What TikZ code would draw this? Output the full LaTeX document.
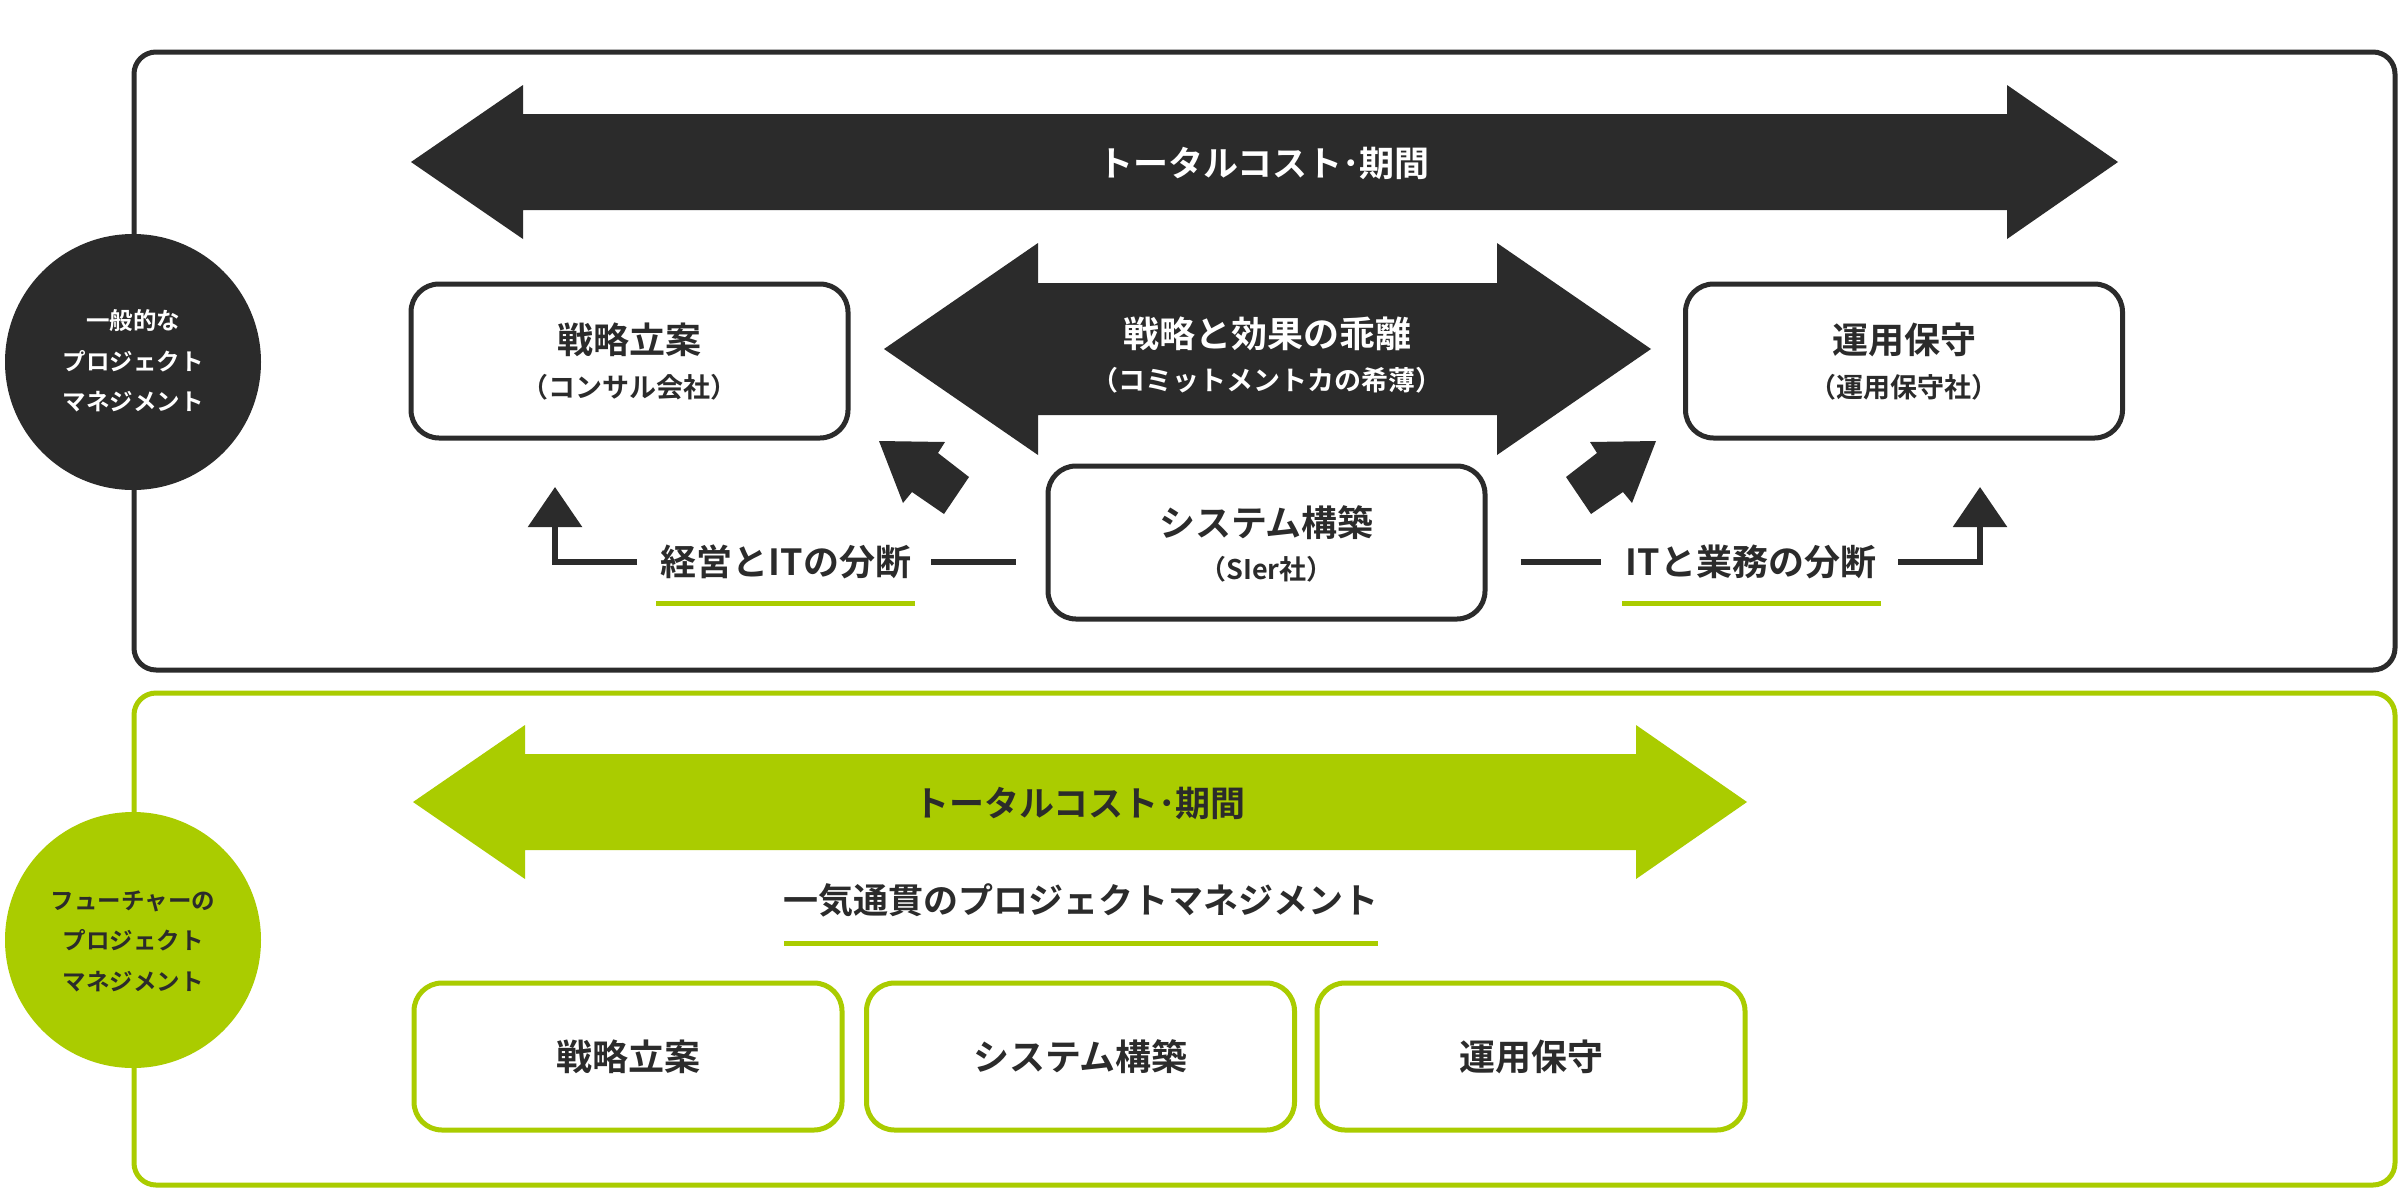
\documentclass[tikz,border=0pt]{standalone}
\usepackage{fontspec}
\setmainfont{Noto Sans CJK JP}[BoldFont={Noto Sans CJK JP Bold}]
\usetikzlibrary{arrows.meta,calc}
\definecolor{dk}{HTML}{2B2B2B}
\definecolor{gr}{HTML}{AACC00}
\newcommand{\fs}[1]{\fontsize{#1}{#1}\selectfont\bfseries}
\newcommand{\fsb}[2]{\fontsize{#1}{#2}\selectfont\bfseries}
\begin{document}
\begin{tikzpicture}[x=1pt,y=-1pt,
  panelbox/.style={line width=5pt,rounded corners=22pt},
  darkbox/.style={draw=dk,line width=5pt,rounded corners=28pt,fill=white,inner sep=0pt,minimum width=437pt,minimum height=154pt},
  greenbox/.style={draw=gr,line width=5pt,rounded corners=28pt,fill=white,inner sep=0pt,minimum width=428pt,minimum height=147pt},
  badge/.style={circle,inner sep=0pt,minimum size=256pt},
  badgetxt/.style={align=center,inner sep=0pt,font=\fsb{23.5}{40.5}},
  titletxt/.style={inner sep=0pt,font=\fs{36}},
  subtxt/.style={inner sep=0pt,font=\fs{27}},
  lbltxt/.style={inner sep=0pt,font=\fs{36},text=dk},
  costtxt/.style={inner sep=0pt,font=\fs{35}},
  conn/.style={draw=dk,line width=6pt},
  uline/.style={draw=gr,line width=5pt},
  tipend/.style={-{Triangle[width=53pt,length=40pt]}}
]
\useasboundingbox (0,0) rectangle (2400,1189);
\fill[white] (0,0) rectangle (2400,1189);

% panels
\draw[panelbox,draw=dk] (134,52) rectangle (2395,670);
\draw[panelbox,draw=gr] (134,693) rectangle (2395,1185);

% badges
\node[badge,fill=dk] (c1) at (133,362) {};
\node[badgetxt,text=white] (c1t) at (133,361) {一般的な\\プロジェクト\\マネジメント};
\node[badge,fill=gr] (c2) at (133,940) {};
\node[badgetxt,text=dk] (c2t) at (133,941) {フューチャーの\\プロジェクト\\マネジメント};

% top total cost arrow
\fill[dk] (411,162) -- (523,85) -- (523,114) -- (2007,114) -- (2007,85) -- (2118,162)
  -- (2007,239) -- (2007,210) -- (523,210) -- (523,239) -- cycle;
\node[costtxt,text=white] (cost1) at (1264,163) {トータルコスト･期間};

% middle gap arrow
\fill[dk] (884,349) -- (1038,243) -- (1038,283) -- (1497,283) -- (1497,243) -- (1651,349)
  -- (1497,455) -- (1497,415) -- (1038,415) -- (1038,455) -- cycle;
\node[titletxt,text=white] (gap) at (1267,334) {戦略と効果の乖離};
\node[subtxt,text=white] (gapsub) at (1267,380) {（コミットメントカの希薄）};

% boxes top
\node[darkbox] (strat) at (629.5,361) {};
\node[titletxt,text=dk] (stratt) at (629.5,340) {戦略立案};
\node[subtxt,text=dk] (strats) at (629.5,387) {（コンサル会社）};
\node[darkbox] (ops) at (1904,361) {};
\node[titletxt,text=dk] (opst) at (1904,340) {運用保守};
\node[subtxt,text=dk] (opss) at (1904,387) {（運用保守社）};
\node[darkbox,minimum height=153pt] (sys) at (1266.5,542.5) {};
\node[titletxt,text=dk] (syst) at (1266.5,523) {システム構築};
\node[subtxt,text=dk] (syss) at (1266.5,569) {（SIer社）};

% diagonal arrows
\fill[dk] (879,441) -- (945,442) -- (938,453) -- (969,477) -- (944,514) -- (912,492) -- (903,503) -- cycle;
\fill[dk] (1656,441) -- (1590,442) -- (1597,453) -- (1566,477) -- (1591,514) -- (1623,492) -- (1632,503) -- cycle;

% labels and connectors
\node[lbltxt] (lbl1) at (786,562) {経営とITの分断};
\node[lbltxt] (lbl2) at (1751,562) {ITと業務の分断};
\coordinate (tip1) at (555,487);
\coordinate (tip2) at (1980,487);
\draw[conn,tipend] (637,562) coordinate (l1a) -| (tip1);
\draw[conn] ($(lbl1.east |- lbl1.center)+(20,0)$) -- ($(sys.west |- lbl1.center)+(-30,0)$);
\draw[conn] ($(sys.east |- lbl2.center)+(33,0)$) -- ($(lbl2.west |- lbl2.center)+(-25,0)$);
\draw[conn,tipend] (1898,562) coordinate (l2a) -| (tip2);
\draw[uline] (656,603) -- (915,603);
\draw[uline] (1622,603) -- (1881,603);

% bottom panel
\fill[gr] (413,802) -- (525,725) -- (525,754) -- (1636,754) -- (1636,725) -- (1747,802)
  -- (1636,879) -- (1636,850) -- (525,850) -- (525,879) -- cycle;
\node[costtxt,text=dk] (cost2) at (1080,803) {トータルコスト･期間};
\node[lbltxt,font=\fs{35}] (oneway) at (1081,900) {一気通貫のプロジェクトマネジメント};
\draw[uline] (784,943) -- (1378,943);

\node[greenbox] (b1) at (628,1056.5) {};
\node[greenbox] (b2) at (1080.5,1056.5) {};
\node[greenbox] (b3) at (1531,1056.5) {};
\node[titletxt,text=dk] (b1t) at (628,1057) {戦略立案};
\node[titletxt,text=dk] (b2t) at (1080.5,1057) {システム構築};
\node[titletxt,text=dk] (b3t) at (1531,1057) {運用保守};
\end{tikzpicture}
\end{document}
